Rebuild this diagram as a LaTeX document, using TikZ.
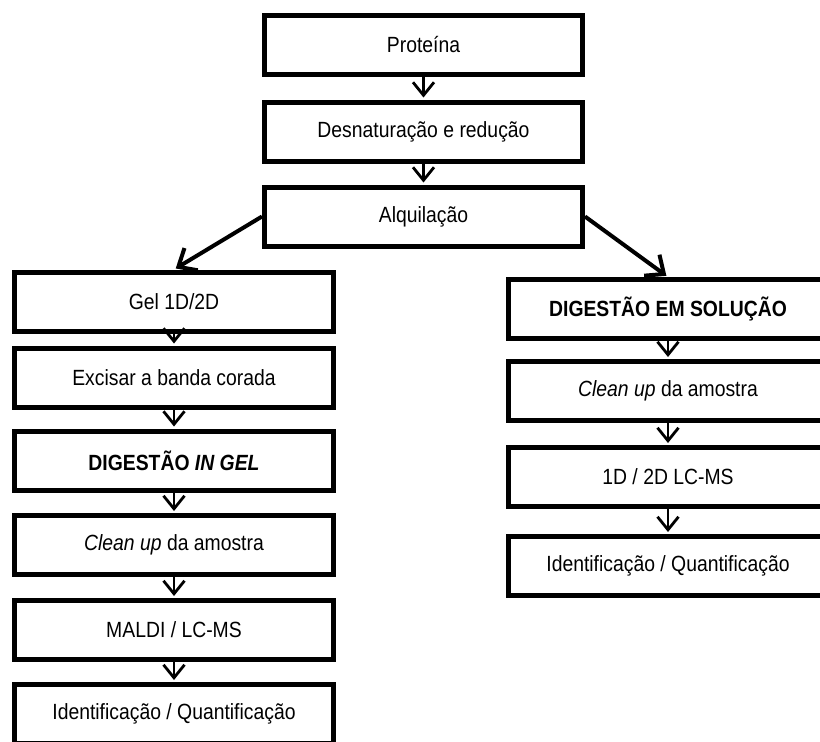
\documentclass[tikz,border=0pt]{standalone}
\usepackage{fontspec}
\setmainfont{Liberation Sans}[FakeStretch=0.88]
\usetikzlibrary{arrows.meta}
\begin{document}
\begin{tikzpicture}[x=1pt,y=-1pt,
  box/.style={draw,line width=5pt,rectangle,inner sep=0pt,minimum width=319pt,minimum height=59pt,font=\fontsize{22}{26}\selectfont,fill=white},
  topbox/.style={box,minimum width=318pt},
  arr/.style={line width=2.8pt,-{Straight Barb[length=13pt,width=21pt]},shorten >=2pt},
  darr/.style={line width=4pt,-{Straight Barb[length=15pt,width=26pt]},shorten >=2pt}]
\useasboundingbox (0,0) rectangle (820,742);
\clip (0,0) rectangle (820,742);
% top column
\node[topbox] (prot) at (423.5,45) {Proteína};
\node[topbox] (desn) at (423.5,131.5) {Desnaturação e redução};
\node[topbox] (alq) at (423.5,216.5) {Alquilação};
% left column
\node[box] (gel) at (174,301.5) {Gel 1D/2D};
\node[box] (exc) at (174,377.5) {Excisar a banda corada};
\node[box] (dig) at (174,460.5) {\textbf{DIGESTÃO \textit{IN GEL}}};
\node[box] (clnl) at (174,545) {\textit{Clean up} da amostra};
\node[box] (mal) at (174,630) {MALDI / LC-MS};
\node[box] (idl) at (174,714) {Identificação / Quantificação};
% right column
\node[box] (sol) at (668,309) {\textbf{DIGESTÃO EM SOLUÇÃO}};
\node[box] (clnr) at (668,391) {\textit{Clean up} da amostra};
\node[box] (lc) at (668,477) {1D / 2D LC-MS};
\node[box] (idr) at (668,566) {Identificação / Quantificação};
% connectors
\draw[arr] (prot.south) -- (desn.north);
\draw[arr] (desn.south) -- (alq.north);
\draw[darr] (alq.west) -- (gel.north);
\draw[darr] (alq.east) -- (sol.north);
\draw[arr] (gel.south) -- (exc.north);
\draw[arr] (exc.south) -- (dig.north);
\draw[arr] (dig.south) -- (clnl.north);
\draw[arr] (clnl.south) -- (mal.north);
\draw[arr] (mal.south) -- (idl.north);
\draw[arr] (sol.south) -- (clnr.north);
\draw[arr] (clnr.south) -- (lc.north);
\draw[arr] (lc.south) -- (idr.north);
\end{tikzpicture}
\end{document}
